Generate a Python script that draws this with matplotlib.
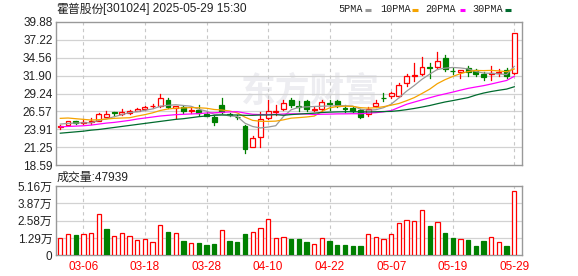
import numpy as np
import pandas as pd
import matplotlib
matplotlib.use("Agg")
import matplotlib.pyplot as plt
from matplotlib.patches import Rectangle
from matplotlib.lines import Line2D

# ---------------- data ----------------
title_name = "霍普股份"
title_rest = "[301024] 2025-05-29 15:30"

holidays = ["2025-04-04", "2025-05-01", "2025-05-02", "2025-05-05"]
dates = [d for d in pd.bdate_range("2025-03-03", "2025-05-29")
         if d.strftime("%Y-%m-%d") not in holidays]

opens = [24.20, 24.56, 25.10, 24.90, 24.95, 25.20, 25.80, 26.50, 26.25, 26.35,
         26.70, 27.00, 27.35, 27.42, 28.27, 27.10, 27.25, 26.70, 26.85, 26.15,
         25.80, 27.50, 26.20, 25.80, 24.40, 21.35, 22.75, 25.55, 26.50, 26.90,
         28.20, 27.35, 28.15, 26.85, 26.95, 27.85, 28.15, 27.10, 27.05, 26.80,
         26.20, 27.40, 28.60, 28.80, 28.85, 30.75, 31.90, 32.20, 33.15, 33.10,
         34.45, 32.60, 32.45, 33.05, 32.70, 32.20, 32.10, 32.30, 32.70, 32.25]
highs = [24.60, 25.20, 25.15, 25.40, 25.65, 26.30, 26.60, 26.55, 26.90, 26.75,
         27.05, 27.40, 27.65, 29.20, 28.60, 27.40, 27.45, 27.10, 27.50, 26.50,
         25.95, 28.60, 26.30, 26.00, 24.50, 22.90, 26.50, 28.30, 27.50, 28.30,
         28.50, 28.05, 28.25, 27.20, 28.25, 28.27, 28.20, 27.55, 27.20, 26.90,
         27.30, 28.20, 29.25, 29.50, 30.80, 32.20, 33.80, 34.70, 33.70, 35.40,
         34.90, 33.06, 32.75, 33.30, 32.80, 32.40, 33.30, 32.80, 33.00, 38.15]
lows = [23.95, 24.50, 24.75, 24.66, 24.66, 25.15, 25.70, 25.95, 26.00, 26.15,
        26.60, 26.85, 27.10, 27.30, 27.10, 25.60, 26.40, 26.30, 26.10, 25.85,
        24.55, 26.35, 25.90, 25.40, 20.45, 21.25, 21.35, 25.45, 26.00, 26.80,
        27.30, 26.64, 26.70, 26.60, 26.70, 26.78, 27.30, 26.44, 26.50, 25.65,
        25.90, 27.20, 28.12, 28.50, 28.70, 30.30, 31.10, 32.00, 31.50, 32.90,
        32.60, 32.12, 31.55, 31.90, 31.85, 31.30, 31.20, 31.90, 31.60, 32.20]
closes = [24.40, 25.10, 24.80, 25.00, 25.10, 26.25, 26.20, 26.40, 26.55, 26.60,
          26.90, 27.25, 27.45, 28.50, 27.30, 27.35, 26.70, 26.85, 26.30, 25.90,
          25.05, 26.45, 26.00, 25.70, 20.95, 22.60, 25.40, 26.65, 26.70, 27.80,
          27.55, 27.25, 26.95, 27.00, 28.00, 27.75, 27.40, 27.00, 26.65, 25.80,
          26.90, 27.80, 28.50, 29.25, 30.50, 31.85, 32.00, 33.10, 33.05, 34.00,
          32.80, 32.55, 32.70, 32.35, 32.10, 31.65, 32.30, 32.35, 31.79, 38.15]
prev_close = 24.10

# volume in 万 (10k shares)
volumes = [1.27, 1.56, 1.51, 1.56, 1.64, 3.05, 1.94, 1.41, 1.64, 1.41,
           1.14, 1.22, 0.97, 2.23, 1.74, 1.64, 1.07, 0.89, 0.92, 0.77,
           0.84, 1.89, 1.07, 0.99, 1.59, 1.74, 2.03, 2.68, 1.27, 1.34,
           1.22, 1.22, 0.99, 0.82, 1.27, 1.07, 0.77, 0.77, 0.69, 0.69,
           1.56, 1.34, 1.22, 1.56, 2.38, 2.61, 2.53, 3.35, 2.18, 2.46,
           1.66, 1.29, 1.22, 1.14, 0.69, 1.07, 1.34, 0.97, 0.69, 4.7939]

# MA values before each window is complete
ma5_head = [24.70, 24.80, 24.85, 24.90]
ma10_head = [25.55, 25.60, 25.50, 25.40, 25.30, 25.35, 25.45, 25.55, 25.60]
ma20_head = [24.30, 24.35, 24.40, 24.45, 24.55, 24.70, 24.85, 24.95, 25.10, 25.25,
             25.45, 25.60, 25.75, 25.90, 26.00, 26.10, 26.15, 26.20, 26.25]
ma30_head = [23.35, 23.45, 23.55, 23.65, 23.80, 23.90, 24.05, 24.20, 24.35, 24.50,
             24.65, 24.80, 24.95, 25.10, 25.25, 25.40, 25.50, 25.65, 25.80, 25.90,
             26.00, 26.05, 26.05, 26.05, 26.00, 26.00, 26.05, 26.05, 26.10]

price_tick_labels = ["18.59", "21.25", "23.91", "26.57", "29.24",
                     "31.90", "34.56", "37.22", "39.88"]
vol_ticks = [0, 1.29, 2.58, 3.87, 5.16]
vol_tick_labels = ["0", "1.29万", "2.58万", "3.87万", "5.16万"]
ma_names = ["5PMA", "10PMA", "20PMA", "30PMA"]

# ---------------- style ----------------
RED = "#ff0000"
GREEN = "#008000"
MA_COLORS = ["#999999", "#f5a300", "#ff00ff", "#006b2e"]
FRAME = "#999999"
GRID = "#d2d2d2"
VGRID = "#c8c8c8"
TXT = "#222222"
MONO = ["Liberation Mono", "Noto Sans CJK SC"]

plt.rcParams["font.family"] = ["Liberation Sans", "Noto Sans CJK SC"]
plt.rcParams["font.size"] = 8.5

W, H = 578, 276
fig = plt.figure(figsize=(W / 100, H / 100), dpi=100)
fig.patch.set_facecolor("white")


def rect(l, t, r, b):
    return [l / W, 1 - b / H, (r - l) / W, (b - t) / H]


axp = fig.add_axes(rect(56, 21.7, 522, 165.3))
axv = fig.add_axes(rect(56, 186, 522, 255.3))

n = len(closes)
x = np.arange(n)
xlim = (-0.56, 60.0)
tick_idx = list(range(3, n, 8))
tick_lbl = [dates[i].strftime("%m-%d") for i in tick_idx]

ymin = float(price_tick_labels[0])
ymax = float(price_tick_labels[-1])
pticks = np.linspace(ymin, ymax, len(price_tick_labels))

for ax in (axp, axv):
    ax.set_xlim(*xlim)
    for s in ax.spines.values():
        s.set_color(FRAME)
        s.set_linewidth(1.0)
    ax.tick_params(length=0, colors=TXT, labelsize=8.5)
    for i in tick_idx:
        ax.axvline(i, color=VGRID, lw=0.8, ls=(0, (3, 3)), zorder=0.5)

axp.set_ylim(ymin, ymax)
axp.set_yticks(pticks)
axp.set_yticklabels(price_tick_labels)
axp.set_xticks([])
for t in pticks[1:-1]:
    axp.axhline(t, color=GRID, lw=0.9, zorder=0.4)
axp.tick_params(axis="y", pad=2.5)

# watermark
axp.text(0.545, 0.52, "东方财富", transform=axp.transAxes, ha="center", va="center",
         fontsize=25, fontweight="bold", color="#ededf1", zorder=0.3,
         family=["Noto Sans CJK SC"])

# candles
bw = 0.64
for i in range(n):
    o, h, l, c = opens[i], highs[i], lows[i], closes[i]
    pc = prev_close if i == 0 else closes[i - 1]
    if c > o:
        axp.add_patch(Rectangle((i - bw / 2, o), bw, c - o, facecolor="white",
                                edgecolor=RED, lw=0.9, zorder=3))
        axp.plot([i, i], [c, h], color=RED, lw=0.9, zorder=3)
        axp.plot([i, i], [l, o], color=RED, lw=0.9, zorder=3)
    elif c < o:
        axp.plot([i, i], [l, h], color=GREEN, lw=0.9, zorder=3)
        axp.add_patch(Rectangle((i - bw / 2, c), bw, o - c, facecolor=GREEN,
                                edgecolor=GREEN, lw=0.9, zorder=3))
    else:
        col = RED if c >= pc else GREEN
        axp.plot([i, i], [l, h], color=col, lw=0.9, zorder=3)
        axp.plot([i - bw / 2, i + bw / 2], [c, c], color=col, lw=0.9, zorder=3)

# moving averages
cl = pd.Series(closes)
for win, head, col in zip([5, 10, 20, 30], [ma5_head, ma10_head, ma20_head, ma30_head],
                          MA_COLORS):
    m = cl.rolling(win).mean().to_numpy()
    m[:win - 1] = head
    axp.plot(x, m, color=col, lw=0.9, zorder=4)

# volume
vmax = vol_ticks[-1]
axv.set_ylim(0, vmax)
axv.set_yticks(vol_ticks)
axv.set_yticklabels(vol_tick_labels)
for t in vol_ticks[1:-1]:
    axv.axhline(t, color=GRID, lw=0.9, zorder=0.4)
vw = 0.56
for i in range(n):
    pc = prev_close if i == 0 else closes[i - 1]
    if closes[i] >= pc:
        axv.add_patch(Rectangle((i - vw / 2, 0), vw, volumes[i], facecolor="white",
                                edgecolor=RED, lw=0.9, zorder=3))
    else:
        axv.add_patch(Rectangle((i - vw / 2, 0), vw, volumes[i], facecolor=GREEN,
                                edgecolor=GREEN, lw=0.9, zorder=3))
axv.set_xticks(tick_idx)
axv.set_xticklabels(tick_lbl)
axv.tick_params(axis="x", colors=RED, pad=4)
axv.tick_params(axis="y", pad=2.5)
for lbl in axv.get_xticklabels():
    lbl.set_color(RED)


def ftext(px, py, s, **kw):
    fig.text(px / W, 1 - py / H, s, va="center", **kw)


ftext(56, 9, title_name, ha="left", fontsize=8.6, color=TXT,
      family=["Noto Sans CJK SC"])
ftext(103, 9, title_rest, ha="left", fontsize=8.6, color=TXT)

leg_text_x = [338.7, 380.0, 425.7, 472.0]
leg_dash_x = [(364.7, 370.7), (412.0, 418.0), (459.7, 465.3), (505.0, 510.7)]
for name, tx, (d0, d1), col in zip(ma_names, leg_text_x, leg_dash_x, MA_COLORS):
    ftext(tx, 9, name, ha="left", fontsize=7.3, color=TXT, family=MONO)
    fig.add_artist(Line2D([d0 / W, d1 / W], [1 - 9.5 / H, 1 - 9.5 / H],
                          transform=fig.transFigure, color=col, lw=2.2,
                          solid_capstyle="butt"))

ftext(57, 178, "成交量:%d" % round(volumes[-1] * 10000), ha="left",
      fontsize=8.6, color=TXT)

fig.savefig("out.png", dpi=100, facecolor="white")
